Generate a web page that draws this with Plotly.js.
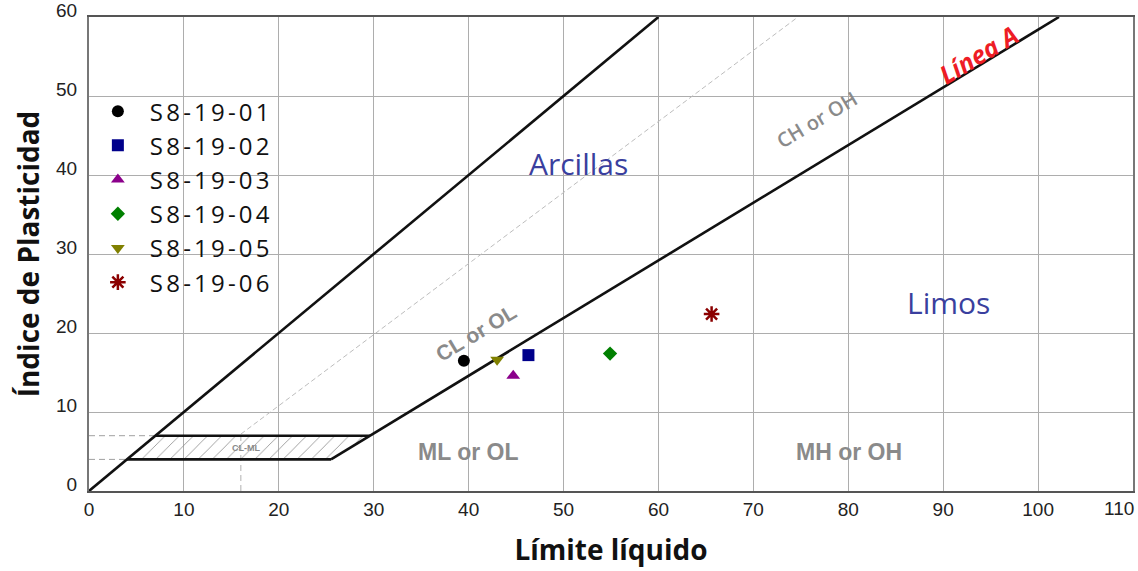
<!DOCTYPE html>
<html>
<head>
<meta charset="utf-8">
<script src="https://cdn.plot.ly/plotly-3.0.1.min.js"></script>
<style>
html, body { margin: 0; padding: 0; background: #fff; }
#chart { width: 1138px; height: 571px; }
.legendtext { letter-spacing: 3.2px; }
</style>
</head>
<body>
<div id="chart"></div>
<script>
// Sample data
const sampleNames = ['S8-19-01', 'S8-19-02', 'S8-19-03', 'S8-19-04', 'S8-19-05', 'S8-19-06'];
const liquidLimit = [39.5, 46.3, 44.7, 54.9, 43.0, 65.6];
const plasticityIndex = [16.5, 17.2, 14.6, 17.4, 16.6, 22.4];
const markerSymbols = ['circle', 'square', 'triangle-up', 'diamond', 'triangle-down', 'asterisk-open'];
const markerColors = ['#000000', '#00008b', '#8b008b', '#008000', '#808000', '#8b0000'];

// Reference lines of the plasticity chart
const limitLineLL = [0, 60];
const limitLinePI = [0, 60];
const aLineLL = [25.5, 102.2];
const aLinePI = [4, 60];
const uLineLL = [16, 74.7];
const uLinePI = [7.2, 60];
const uVertLL = [16, 16];
const uVertPI = [0, 7.2];
const bandLL = [4, 25.5, 29.6, 7, 4];
const bandPI = [4, 4, 7, 7, 4];
const bandLowLL = [4, 25.5];
const bandLowPI = [4, 4];
const bandHighLL = [7, 29.6];
const bandHighPI = [7, 7];
const dash7LL = [0, 7];
const dash7PI = [7, 7];
const dash4LL = [0, 4];
const dash4PI = [4, 4];

const xTicks = [0, 10, 20, 30, 40, 50, 60, 70, 80, 90, 100, 110];
const yTicks = [0, 10, 20, 30, 40, 50, 60];

const traces = [];
function line(x, y, color, width, dash) {
  traces.push({x: x, y: y, mode: 'lines', type: 'scatter', showlegend: false, hoverinfo: 'skip',
    line: {color: color, width: width, dash: dash || 'solid'}});
}
// hatched band
traces.push({x: bandLL, y: bandPI, type: 'scatter', mode: 'lines', fill: 'toself', showlegend: false,
  hoverinfo: 'skip', line: {width: 0, color: 'rgba(0,0,0,0)'}, fillcolor: 'rgba(255,255,255,0)',
  fillpattern: {shape: '/', size: 10, solidity: 0.08, fgcolor: '#8a8a8a', bgcolor: 'rgba(255,255,255,0)'}});
line(dash7LL, dash7PI, '#a0a0a0', 1, '6px,4px');
line(dash4LL, dash4PI, '#a0a0a0', 1, '6px,4px');
line(uVertLL, uVertPI, '#b0b0b0', 1, '6px,4px');
line(uLineLL, uLinePI, '#bdbdbd', 1, '5px,3px');
line(limitLineLL, limitLinePI, '#111', 2.6);
line(aLineLL, aLinePI, '#111', 2.6);
line(bandLowLL, bandLowPI, '#111', 2.6);
line(bandHighLL, bandHighPI, '#111', 2.6);

for (let i = 0; i < sampleNames.length; i++) {
  const isStar = markerSymbols[i] === 'asterisk-open';
  traces.push({
    x: [liquidLimit[i]], y: [plasticityIndex[i]], name: sampleNames[i], type: 'scatter', mode: 'markers',
    marker: {symbol: markerSymbols[i], color: markerColors[i],
      size: isStar ? 13 : (markerSymbols[i] === 'diamond' ? 11 : 12),
      line: {color: markerColors[i], width: isStar ? 2.5 : 0}}
  });
}

const gray = '#8a8a8a';
const tickFont = {family: 'Liberation Sans', size: 19, color: '#222'};
const annotations = [
  {x: 16.5, y: 5.5, text: 'CL-ML', font: {family: 'Liberation Sans', size: 9, color: gray, weight: 'bold'}},
  {x: 40, y: 4.9, text: 'ML or OL', font: {family: 'Liberation Sans', size: 23, color: gray, weight: 'bold'}},
  {x: 80.1, y: 4.9, text: 'MH or OH', font: {family: 'Liberation Sans', size: 23, color: gray, weight: 'bold'}},
  {x: 40.8, y: 20.1, text: 'CL or OL', textangle: -31, font: {family: 'Liberation Sans', size: 21, color: gray, weight: 'bold'}},
  {x: 76.7, y: 47.0, text: 'CH or OH', textangle: -31, font: {family: 'Open Sans', size: 20, color: gray, weight: 600}},
  {x: 93.7, y: 55.3, text: 'Línea A', textangle: -31, font: {family: 'Open Sans', size: 25, color: '#ee1c25', weight: 'bold', style: 'italic'}},
  {x: 51.6, y: 41.5, text: 'Arcillas', font: {family: 'Open Sans', size: 30, color: '#3a3f9e'}},
  {x: 90.6, y: 23.9, text: 'Limos', font: {family: 'Open Sans', size: 30, color: '#3a3f9e'}},
  // last x tick label, pulled inside the page like in the original
  {x: 110, y: 0, yref: 'paper', text: String(xTicks[xTicks.length - 1]), xanchor: 'right', yanchor: 'top', yshift: -5, xshift: 3, font: tickFont}
].map(a => Object.assign({xref: 'x', yref: 'y', showarrow: false}, a));

const layout = {
  width: 1138, height: 571,
  margin: {l: 89, r: 5, t: 17, b: 80},
  paper_bgcolor: '#fff', plot_bgcolor: '#fff',
  showlegend: true,
  legend: {x: -0.003, y: 0.848, xanchor: 'left', yanchor: 'top', bgcolor: 'rgba(0,0,0,0)',
    font: {family: 'Open Sans', size: 24, color: '#111'}, itemwidth: 54},
  xaxis: {
    range: [0, 110], tickvals: xTicks.slice(0, -1), ticktext: xTicks.slice(0, -1).map(String),
    showgrid: true, gridcolor: '#adadad', gridwidth: 1, zeroline: false,
    showline: true, linecolor: '#555', linewidth: 2, mirror: true,
    ticks: '', tickfont: tickFont,
    title: {text: 'Límite líquido', font: {family: 'Open Sans', size: 28, color: '#111', weight: 'bold'}, standoff: 22}
  },
  yaxis: {
    range: [0, 60], tickvals: yTicks, ticktext: yTicks.map(String),
    showgrid: true, gridcolor: '#adadad', gridwidth: 1, zeroline: false,
    showline: true, linecolor: '#777', linewidth: 2, mirror: true,
    ticks: '', ticklabelshift: -7, ticklabelstandoff: 6, ticklabeloverflow: 'allow',
    tickfont: tickFont,
    title: {text: 'Índice de Plasticidad', font: {family: 'Open Sans', size: 28, color: '#111', weight: 'bold'}, standoff: 8}
  },
  annotations: annotations
};

Plotly.newPlot('chart', traces, layout, {displayModeBar: false, staticPlot: true});
</script>
</body>
</html>
